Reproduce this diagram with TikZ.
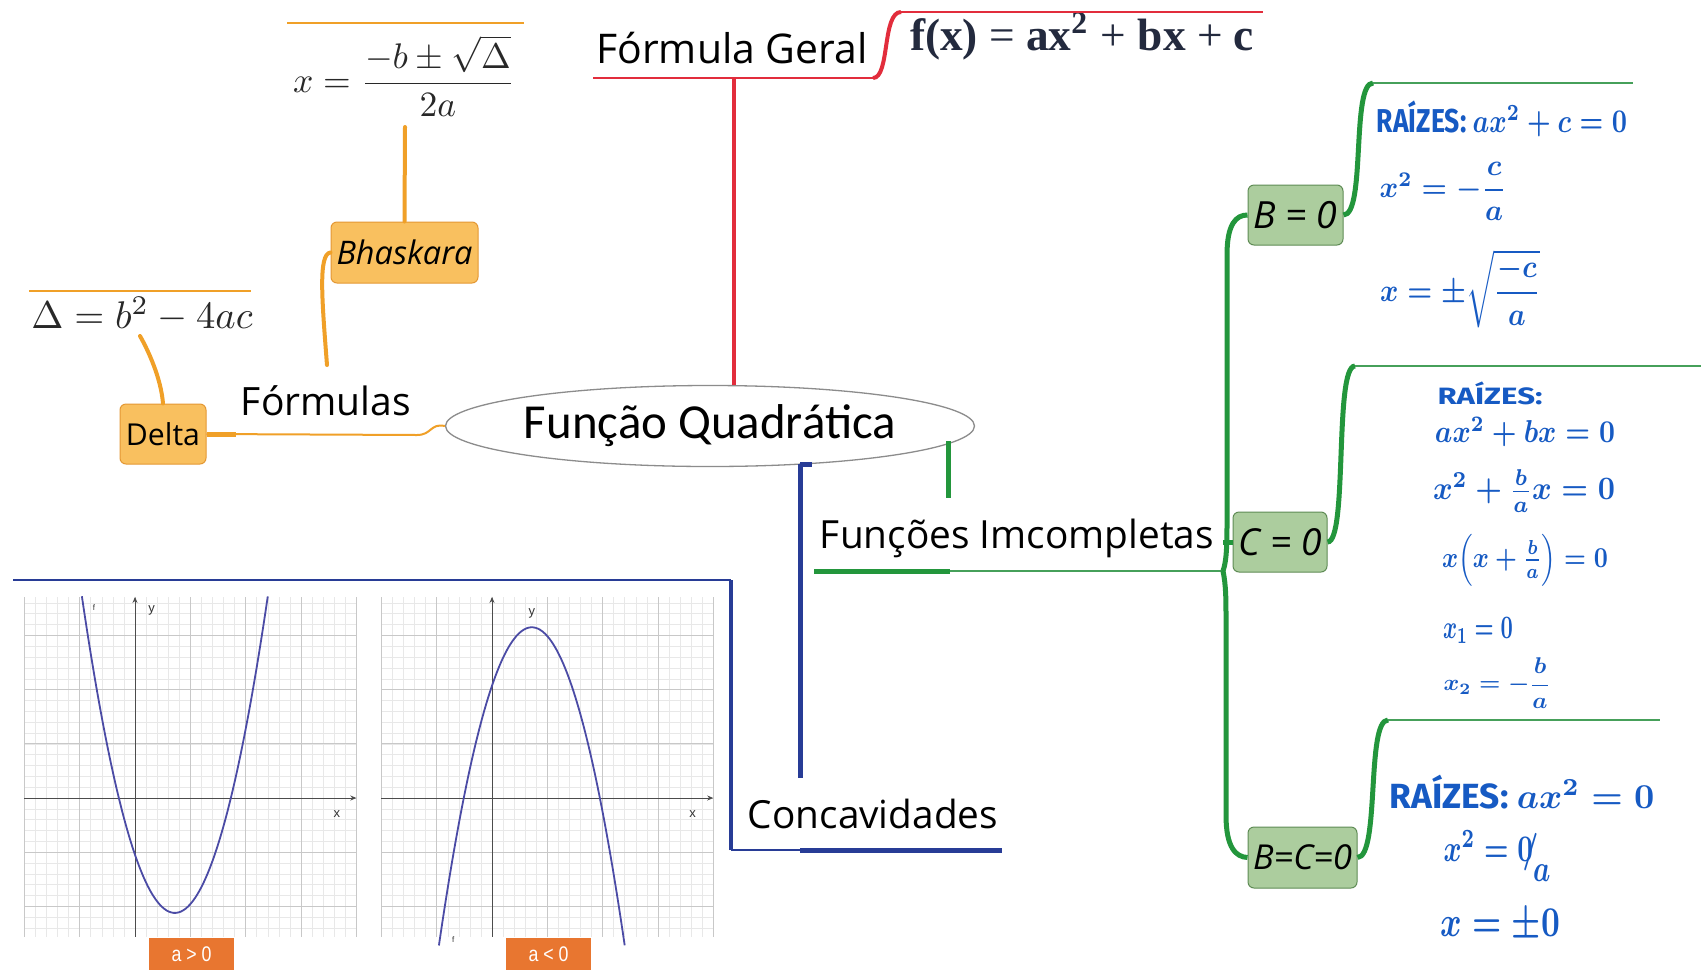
\documentclass[tikz,border=0pt]{standalone}
\usepackage{fontspec}
\usepackage{amsmath}
\usepackage{graphicx}
\usetikzlibrary{shapes.geometric,arrows.meta}
\newfontfamily\comic{Open Sans}
\newfontfamily\calib{Carlito}
\newfontfamily\serb{Liberation Serif}
\newfontfamily\hand{Fira Sans}
\newfontfamily\narrow{Liberation Sans}
\definecolor{cred}{RGB}{226,45,60}
\definecolor{corange}{RGB}{240,160,40}
\definecolor{boxor}{RGB}{249,192,95}
\definecolor{boxorb}{RGB}{228,152,52}
\definecolor{cgreen}{RGB}{35,150,60}
\definecolor{cgreenl}{RGB}{70,160,90}
\definecolor{boxgr}{RGB}{172,205,158}
\definecolor{boxgrb}{RGB}{95,140,85}
\definecolor{cblue}{RGB}{40,60,150}
\definecolor{hblue}{RGB}{22,90,195}
\definecolor{curvec}{RGB}{75,75,165}
\definecolor{gridmin}{RGB}{232,232,232}
\definecolor{gridmaj}{RGB}{200,200,200}
\definecolor{labor}{RGB}{232,118,48}
\definecolor{fxcol}{RGB}{35,42,62}
\definecolor{formcol}{RGB}{40,40,40}
\newcommand{\fw}[2]{\resizebox{#1pt}{!}{#2}}
\newcommand{\hwb}[3]{\resizebox*{#1pt}{#2pt}{\boldmath #3}}
\begin{document}
\begin{tikzpicture}[x=1pt,y=-1pt,
  lbl/.style={inner sep=0pt, outer sep=0pt},
  rthick/.style={draw=cred, line width=4pt},
  rthin/.style={draw=cred, line width=2.2pt},
  othick/.style={draw=corange, line width=4pt, line cap=round},
  othin/.style={draw=corange, line width=2pt},
  gthick/.style={draw=cgreen, line width=5pt},
  gthin/.style={draw=cgreenl, line width=2pt},
  bthick/.style={draw=cblue, line width=5pt},
  bthin/.style={draw=cblue, line width=2pt},
  obox/.style={draw=boxorb, fill=boxor, rounded corners=6pt, line width=1pt, inner sep=0pt},
  gbox/.style={draw=boxgrb, fill=boxgr, rounded corners=6pt, line width=1pt, inner sep=0pt},
  hw/.style={text=hblue, inner sep=0pt, anchor=center},
  labbox/.style={fill=labor, text=white, minimum width=85pt, minimum height=32pt, inner sep=0pt},
  glabel/.style={text=black!80, inner sep=0pt, font=\narrow\fontsize{13pt}{13pt}\selectfont},
  rootst/.style={ellipse, draw=black!45, line width=1.3pt, fill=white, minimum width=529pt, minimum height=81pt, inner sep=0pt},
  gridminor/.style={draw=gridmin, line width=0.5pt},
  gridmajor/.style={draw=gridmaj, line width=0.8pt},
  axisst/.style={draw=black!70, line width=0.9pt, -{Stealth[length=6pt,width=5pt]}},
  parab/.style={draw=curvec, line width=1.8pt}
]
\useasboundingbox (0,0) rectangle (1701,970);
\fill[white] (0,0) rectangle (1701,970);

% ---------- graphs ----------
\begin{scope}[shift={(135pt,-798pt)}, x=55.33pt, y=54.2pt]
  \draw[gridminor, step=0.2] (-2,-2.56) grid (4,3.71);
  \draw[gridmajor, step=1] (-2,-2.56) grid (4,3.71);
  \draw[axisst] (-2,0) -- (4,0);
  \draw[axisst] (0,-2.56) -- (0,3.71);
  \draw[parab, domain=-0.96:2.40, samples=80, smooth] plot (\x,{2.07*(\x-0.72)^2-2.12});
  \node[glabel] (ly1) at (0.30,3.47) {y};
  \node[glabel] (lx1) at (3.65,-0.30) {x};
  \node[glabel, font=\narrow\fontsize{8pt}{8pt}\selectfont] (lf1) at (-0.74,3.52) {f};
\end{scope}
\begin{scope}[shift={(492pt,-798pt)}, x=55.3pt, y=54.2pt]
  \draw[gridminor, step=0.2] (-2,-2.56) grid (4,3.71);
  \draw[gridmajor, step=1] (-2,-2.56) grid (4,3.71);
  \draw[axisst] (-2,0) -- (4,0);
  \draw[axisst] (0,-2.56) -- (0,3.71);
  \draw[parab, domain=-0.96:2.40, samples=80, smooth] plot (\x,{-2.08*(\x-0.72)^2+3.15});
  \node[glabel] (ly2) at (0.72,3.40) {y};
  \node[glabel] (lx2) at (3.63,-0.30) {x};
  \node[glabel, font=\narrow\fontsize{8pt}{8pt}\selectfont] (lf2) at (-0.70,-2.62) {f};
\end{scope}
\node[labbox] (pos) at (191.5,954) {\resizebox*{40pt}{15pt}{\narrow a > 0}};
\node[labbox] (neg) at (548.5,954) {\resizebox*{40pt}{15pt}{\narrow a < 0}};

% ---------- central node ----------
\node[rootst] (root) at (710,426) {\fw{372}{\calib Função Quadrática}};

% ---------- red branch ----------
\node[lbl, anchor=base] (fg) at (732,63) {\fw{271}{\comic Fórmula Geral}};
\node[lbl, anchor=base, text=fxcol] (fx) at (1082,50) {\fw{344}{\serb\bfseries f(x) \mdseries=\bfseries\ ax\textsuperscript{2} \mdseries+\bfseries\ bx \mdseries+\bfseries\ c}};
\coordinate (fgL) at (593,78);
\coordinate (fgV) at (734,78);
\coordinate (fgR) at (873,78);
\coordinate (fxL) at (901,12);
\coordinate (fxR) at (1263,12);
\draw[rthin] (fgL) -- (fgR);
\draw[rthick] (fgR) .. controls (890,78) and (882,12) .. (fxL);
\draw[rthin] (fxL) -- (fxR);
\draw[rthick] (root.north -| fgV) -- (fgV);

% ---------- orange branch ----------
\node[lbl, anchor=base] (form) at (326,415) {\fw{170}{\comic Fórmulas}};
\node[obox, minimum width=86pt, minimum height=60pt] (delta) at (163,434) {\fw{74}{\comic Delta}};
\node[obox, minimum width=147pt, minimum height=61pt] (bh) at (404.5,252.5) {\fw{136}{\comic\itshape Bhaskara}};
\node[lbl, anchor=base, text=formcol] (dform) at (142,328) {\fw{221}{$\Delta = b^2 - 4ac$}};
\node[lbl, text=formcol] (bform) at (404,76) {\fw{222}{$x=\dfrac{-b\pm\sqrt{\Delta}}{2a}$}};
\coordinate (fR) at (417,435);
\coordinate (fTop) at (327,365);
\coordinate (bfBot) at (405,127);
\coordinate (dfBot) at (140,336);
\draw[othin] (delta.east) -- (fR) .. controls (432,435) and (430,423) .. (root.west);
\draw[draw=corange, line width=5pt] (delta.east) -- ++(29,0);
\draw[othick] (fTop) .. controls (322,300) and (318,254) .. (bh.west);
\draw[othick] (bh.north) -- (bfBot);
\draw[othick] (delta.north) .. controls (161,378) and (148,350) .. (dfBot);
\draw[othin] (287,23) -- (524,23);
\draw[othin] (29,291) -- (251,291);

% ---------- blue branch ----------
\node[lbl, anchor=base] (conc) at (873,828) {\fw{250}{\comic Concavidades}};
\coordinate (bstart) at (800,464);
\coordinate (bend) at (800,778);
\coordinate (cu1) at (731,850);
\coordinate (cu2) at (800,850);
\coordinate (cu3) at (1002,850);
\coordinate (ctop) at (731,580);
\coordinate (cleft) at (13,580);
\draw[bthick] (bstart) -- (bend);
\draw[bthick] (bstart) -- ++(12,0);
\draw[bthin] (cu1) -- (cu2);
\draw[bthick] (cu2) -- (cu3);
\draw[draw=cblue, line width=4pt] (cu1) -- (ctop);
\draw[bthin] (ctop) -- (cleft);

% ---------- green branch ----------
\node[lbl, anchor=base] (fi) at (1017,548) {\fw{394}{\comic Funções Imcompletas}};
\node[gbox, minimum width=95pt, minimum height=60pt] (b0) at (1295.5,215) {\fw{84}{\comic\itshape B = 0}};
\node[gbox, minimum width=94pt, minimum height=60pt] (c0) at (1280,542) {\fw{83}{\comic\itshape C = 0}};
\node[gbox, minimum width=109pt, minimum height=61pt] (bc0) at (1302.5,857.5) {\fw{99}{\comic\itshape B=C=0}};
\coordinate (gstart) at (948,441);
\coordinate (gend) at (948,498);
\coordinate (fu1) at (814,571);
\coordinate (fu2) at (950,571);
\coordinate (fijn) at (1223,571);
\draw[gthick] (gstart) -- (gend);
\draw[gthick] (fu1) -- (fu2);
\draw[gthin] (fu2) -- (fijn);
\draw[gthick] (fijn) .. controls (1227,560) and (1227,540) .. (1227,520) -- (1227,255) .. controls (1227,224) and (1236,215) .. (b0.west);
\draw[gthick] (fijn) .. controls (1226,585) and (1226,600) .. (1226,620) -- (1226,815) .. controls (1226,848) and (1236,857) .. (bc0.west);
\draw[gthick] (c0.west -| fijn) -- (c0.west);
\coordinate (t1) at (1373,83);
\coordinate (t1e) at (1633,83);
\coordinate (t2) at (1355,366);
\coordinate (t2e) at (1701,366);
\coordinate (t3) at (1388,720);
\coordinate (t3e) at (1660,720);
\draw[gthick] (b0.east) .. controls (1366,215) and (1351,83) .. (t1);
\draw[gthin] (t1) -- (t1e);
\draw[gthick] (c0.east) .. controls (1348,542) and (1334,366) .. (t2);
\draw[gthin] (t2) -- (t2e);
\draw[gthick] (bc0.east) .. controls (1380,857) and (1366,720) .. (t3);
\draw[gthin] (t3) -- (t3e);

% ---------- handwritten notes ----------
\node[hw] (h1) at (1502,119) {\hwb{250}{36}{\hand\bfseries RAÍZES: $ax^2+c=0$}};
\node[hw] (h2) at (1443,191) {\hwb{127}{58}{$x^2=-\dfrac{c}{a}$}};
\node[hw] (h3) at (1460,289) {\hwb{160}{78}{$x=\pm\sqrt{\dfrac{-c}{a}}$}};
\node[hw] (h4) at (1490,393) {\hwb{105}{23}{\hand\bfseries RAÍZES:}};
\node[hw] (h5) at (1525,432) {\hwb{180}{30}{$ax^2+bx=0$}};
\node[hw] (h6) at (1524,491) {\hwb{182}{42}{$x^2+\tfrac{b}{a}x=0$}};
\node[hw] (h7) at (1525,560) {\hwb{166}{52}{$x\Bigl(x+\tfrac{b}{a}\Bigr)=0$}};
\node[hw] (h8) at (1478,630) {\hwb{70}{26}{$x_1=0$}};
\node[hw] (h9) at (1497,683) {\hwb{107}{50}{$x_2=-\dfrac{b}{a}$}};
\node[hw] (h10) at (1522,792) {\hwb{265}{34}{\hand\bfseries RAÍZES: $ax^2=0$}};
\node[hw] (h11) at (1497,856) {\hwb{107}{50}{$x^2=0\!\!/\!\raisebox{-1.2ex}{$a$}$}};
\node[hw] (h12) at (1500,926) {\hwb{120}{33}{$x=\pm 0$}};
\end{tikzpicture}
\end{document}
